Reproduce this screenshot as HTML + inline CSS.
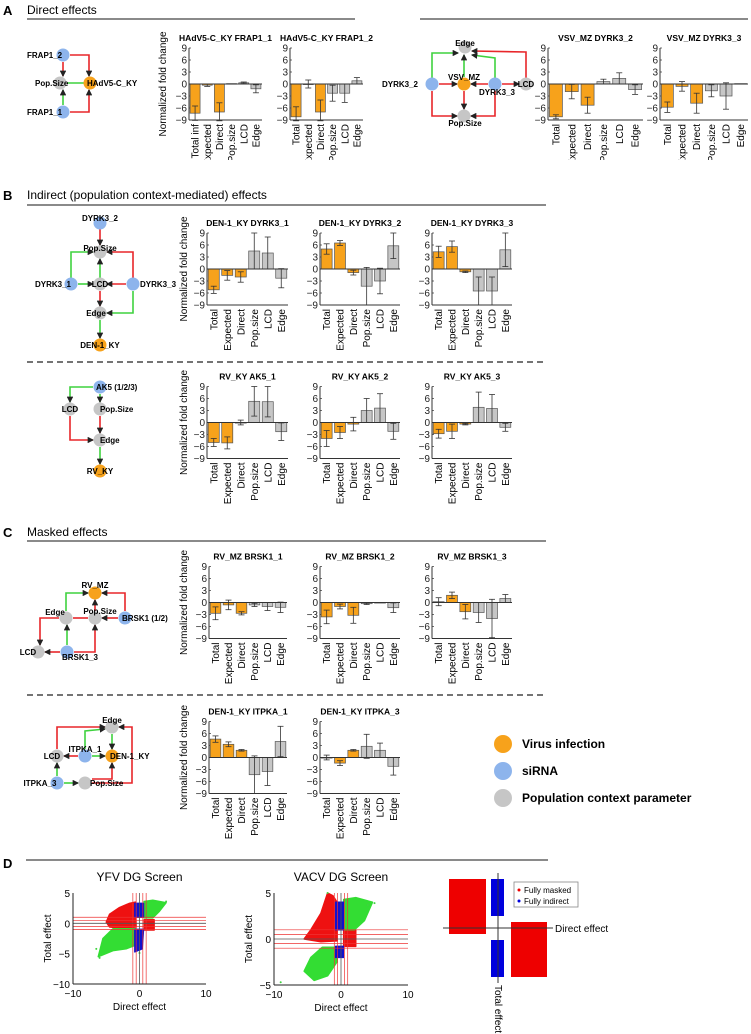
<!DOCTYPE html>
<html><head><meta charset="utf-8"><style>
html,body{margin:0;padding:0;background:#fff;}
svg{display:block;font-family:"Liberation Sans",Arial,sans-serif;}
</style></head><body>
<svg id="fig" width="751" height="1034" viewBox="0 0 751 1034" xmlns="http://www.w3.org/2000/svg">
<defs>
<clipPath id="clipA"><rect x="0" y="0" width="751" height="160"/></clipPath>
<marker id="ar" viewBox="0 0 6 6" refX="5" refY="3" markerWidth="4" markerHeight="4" orient="auto"><path d="M0,0L6,3L0,6z" fill="#222"/></marker>
</defs>
<!-- headers -->
<g font-size="12">
<text x="3" y="15" font-weight="bold" font-size="13">A</text><text x="27" y="14">Direct effects</text>
<line x1="27" y1="19" x2="355" y2="19" stroke="#444" stroke-width="1.3"/><line x1="420" y1="19" x2="748" y2="19" stroke="#444" stroke-width="1.3"/></g>
<g font-size="12">
<text x="3" y="200" font-weight="bold" font-size="13">B</text><text x="27" y="199">Indirect (population context-mediated) effects</text>
<line x1="27" y1="205" x2="546" y2="205" stroke="#444" stroke-width="1.3"/></g>
<line x1="27" y1="362" x2="546" y2="362" stroke="#222" stroke-width="1.3" stroke-dasharray="6,4"/>
<g font-size="12">
<text x="3" y="537" font-weight="bold" font-size="13">C</text><text x="27" y="536">Masked effects</text>
<line x1="27" y1="541" x2="546" y2="541" stroke="#444" stroke-width="1.3"/></g>
<line x1="27" y1="695" x2="546" y2="695" stroke="#222" stroke-width="1.3" stroke-dasharray="6,4"/>
<g>
<text x="3" y="868" font-weight="bold" font-size="13">D</text>
<line x1="26" y1="860" x2="548" y2="860" stroke="#444" stroke-width="1.3"/></g>
<g id="charts"></g>
<g id="nets"></g>
<g id="legend" font-weight="bold" font-size="12">
<circle cx="503" cy="744" r="9" fill="#F7A21B"/><text x="522" y="748">Virus infection</text>
<circle cx="503" cy="771" r="9" fill="#8DB4EC"/><text x="522" y="775">siRNA</text>
<circle cx="503" cy="798" r="9" fill="#C6C6C6"/><text x="522" y="802">Population context parameter</text>
</g>
<g id="scatter"></g>
<g id="schema">
<rect x="449" y="879" width="37" height="55" fill="#EE0000"/>
<rect x="511" y="922" width="36" height="55" fill="#EE0000"/>
<rect x="491" y="879" width="13" height="37" fill="#0000DD"/>
<rect x="491" y="940" width="13" height="37" fill="#0000DD"/>
<line x1="498" y1="873" x2="498" y2="983" stroke="#333"/>
<line x1="443" y1="928" x2="553" y2="928" stroke="#333"/>
<text x="555" y="932" font-size="10">Direct effect</text>
<text transform="translate(495,985) rotate(90)" font-size="10">Total effect</text>
<rect x="514" y="882" width="64" height="25" fill="#fff" stroke="#888" stroke-width="0.8"/>
<circle cx="519" cy="890" r="1.5" fill="#EE0000"/><text x="524" y="893" font-size="8">Fully masked</text>
<circle cx="519" cy="901" r="1.5" fill="#0000DD"/><text x="524" y="904" font-size="8">Fully indirect</text>
</g>
</svg>
<script>
const NS="http://www.w3.org/2000/svg";
function mk(tag,attrs,parent,txt){const e=document.createElementNS(NS,tag);for(const k in attrs)e.setAttribute(k,attrs[k]);if(txt!==undefined)e.textContent=txt;parent.appendChild(e);return e;}
// ---------- bar chart data ----------
const categories=["Total","Expected","Direct","Pop.size","LCD","Edge"];
const catsA1=["Total inf","Expected","Direct","Pop.size","LCD","Edge"];
const yTicks=[9,6,3,0,-3,-6,-9];
const titles=["HAdV5-C_KY FRAP1_1","HAdV5-C_KY FRAP1_2","VSV_MZ DYRK3_2","VSV_MZ DYRK3_3",
"DEN-1_KY DYRK3_1","DEN-1_KY DYRK3_2","DEN-1_KY DYRK3_3","RV_KY AK5_1","RV_KY AK5_2","RV_KY AK5_3",
"RV_MZ BRSK1_1","RV_MZ BRSK1_2","RV_MZ BRSK1_3","DEN-1_KY ITPKA_1","DEN-1_KY ITPKA_3"];
const values=[
[-7.3,-0.3,-7,0.1,0.3,-1.2],[-8.2,0,-7,-2.3,-2.3,0.8],[-8.2,-1.9,-5.3,0.6,1.4,-1.4],[-5.8,-0.6,-4.8,-1.7,-3,0.1],
[-5.2,-1.6,-2,4.5,4,-2.3],[5,6.5,-0.9,-4.3,-3,5.8],[4.3,5.6,-0.7,-5.5,-5.5,4.8],
[-5,-5.1,0,5.3,5.2,-2.3],[-4,-2.5,-0.4,3,3.6,-2.2],[-2.8,-2.2,-0.4,3.8,3.5,-1.2],
[-2.7,-0.6,-2.7,-0.6,-1,-1.2],[-3.6,-1,-3.2,-0.3,0,-1.3],[0.2,1.8,-2.3,-2.5,-4,1],
[4.6,3.3,1.8,-4.3,-3.5,4],[0,-1.4,1.8,2.8,1.8,-2.2]];
const errors=[
[1.8,0.3,2.3,0,0.2,1],[2.5,1,3,2,2.3,0.8],[0.5,1.8,2,0.6,1.4,1.2],[1.3,1.2,2.5,1.5,3.3,0],
[0.9,1.2,1.3,4.5,4,2.4],[1.3,0.6,0.6,4.7,3.2,3.2],[1.4,1.4,0.2,3.5,3.5,4.2],
[1,1.5,0.6,3.7,3.8,2.2],[2,1.5,1.7,3,3.6,2],[1.1,1.8,0.2,3.8,3.5,1],
[1.6,1.2,0.4,0.4,1,1.3],[1.7,0.6,2,0.2,0,1.2],[1,0.8,1.8,2.5,4.8,1],
[0.8,0.6,0.2,4.7,3.5,3.8],[0.6,0.6,0.2,3,1.8,2.2]];
// layout (positions, not data)
const layout=[
[189,84,73,1],[290,84,73,1],[548,84,95,1],[660,84,88,1],
[207,269,81,0],[320,269,80,0],[432,269,80,0],
[207,422.5,81,0],[320,422.5,80,0],[432,422.5,80,0],
[209,602.5,78,0],[320,602.5,80,0],[432,602.5,80,0],
[209,757.5,78,0],[320,757.5,80,0]];
const ylabX={84:162,269:183,422.5:183,602.5:183,757.5:183};
const charts=document.getElementById('charts');
layout.forEach((L,ci)=>{
 const [x0,zy,W,clipA]=L; const k=4;
 const yS=v=>zy-v*k;
 const g=mk('g',{},charts);
 
 
 const t=mk('text',{x:x0+W/2,y:yS(9)-7,'text-anchor':'middle','font-size':8.5,'font-weight':'bold'},g,titles[ci]);
 
 
 if(ci===0||ci===4||ci===7||ci===10||ci===13||ci===2&&false){
  const yl=mk('text',{transform:`translate(${ylabX[zy]+4},${zy}) rotate(-90)`,'text-anchor':'middle','font-size':10},g,'Normalized fold change');
  
  
 }
 yTicks.forEach(tv=>{
  const tl=mk('text',{x:x0-2,y:yS(tv)+3.5,'text-anchor':'end','font-size':10,fill:'#222'},g,tv<0?'\u2212'+(-tv):String(tv));
  
  
  mk('line',{x1:x0,x2:x0+2,y1:yS(tv),y2:yS(tv),stroke:'#333','stroke-width':0.7},g);
 });
 mk('line',{x1:x0,x2:x0,y1:yS(9),y2:yS(-9),stroke:'#333','stroke-width':1},g);
 mk('line',{x1:x0,x2:x0+W,y1:yS(-9),y2:yS(-9),stroke:'#333','stroke-width':1},g);
 const slot=W/6, bw=slot*0.82;
 const labG=mk('g',clipA?{'clip-path':'url(#clipA)'}:{},g);
 values[ci].forEach((v,i)=>{
  const cx=x0+slot*(i+0.5);
  const top=Math.min(yS(v),zy), h=Math.abs(yS(v)-zy);
  const b=mk('rect',{x:cx-bw/2,y:top,width:bw,height:Math.max(h,0.6),fill:i<3?'#F7A21B':'#C6C6C6',stroke:'#555','stroke-width':0.7},g);
  
  
  const e=errors[ci][i];
  if(e>0){
   const y1=yS(v+e),y2=yS(Math.max(v-e,-9.2));
   mk('line',{x1:cx,x2:cx,y1:y1,y2:y2,stroke:'#333','stroke-width':0.8},g);
   mk('line',{x1:cx-3,x2:cx+3,y1:y1,y2:y1,stroke:'#333','stroke-width':0.8},g);
   mk('line',{x1:cx-3,x2:cx+3,y1:y2,y2:y2,stroke:'#333','stroke-width':0.8},g);
  }
  const lab=(ci===0?catsA1:categories)[i];
  const tl=mk('text',{transform:`translate(${cx+3.5},${yS(-9)+4}) rotate(-90)`,'text-anchor':'end','font-size':10},labG,lab);
  
  
 });
 mk('line',{x1:x0,x2:x0+W,y1:zy,y2:zy,stroke:'#333','stroke-width':1},g);
});
// ---------- networks ----------
const nets=document.getElementById('nets');
const COL={o:'#F7A21B',b:'#8DB4EC',g:'#C6C6C6'};
const R='#E8262A',G='#3FD23F';
function edge(pts,c){const d='M'+pts.map(p=>p.join(',')).join('L');const p=mk('path',{d:d,fill:'none',stroke:c,'stroke-width':1.6,'marker-end':'url(#ar)'},nets);}
function node(x,y,c,label,lx,ly,anchor){const n=mk('circle',{cx:x,cy:y,r:6.5,fill:COL[c]},nets);
 const t=mk('text',{x:lx,y:ly,'font-size':8,'font-weight':'bold','text-anchor':anchor||'middle'},nets,label);}
// A left
edge([[70,55],[89,55],[89,76]],R);edge([[63,62],[63,76]],R);edge([[70,112],[89,112],[89,90]],R);edge([[63,105],[63,90]],G);
mk('line',{x1:67,y1:83,x2:84,y2:83,stroke:G,'stroke-width':1.6},nets);
node(63,55,'b','FRAP1_2',27,58,'start');node(60,83,'g','Pop.Size',35,86,'start');node(90,83,'o','HAdV5-C_KY',87,86,'start');node(63,112,'b','FRAP1_1',27,115,'start');
// A right
edge([[432,78],[432,53],[458,53]],G);edge([[464,77],[464,55]],G);edge([[495,78],[495,58],[472,55]],G);edge([[526,78],[526,52],[472,51]],R);
edge([[439,84],[457,84]],R);edge([[488,84],[471,84]],R);edge([[502,84],[519,84]],R);edge([[464,91],[464,109]],R);
edge([[432,91],[432,116],[457,116]],R);edge([[495,91],[495,116],[471,116]],R);
node(465,47,'g','Edge',465,46);node(432,84,'b','DYRK3_2',400,87,'middle');node(464,84,'o','VSV_MZ',464,80);node(495,84,'b','DYRK3_3',497,95);node(526,84,'g','LCD',526,87);node(464,116,'g','Pop.Size',465,126);
// B top
edge([[100,229],[100,245]],R);edge([[71,278],[71,252],[93,252]],G);edge([[100,278],[100,259]],G);edge([[133,278],[133,252],[107,252]],R);
edge([[78,284],[93,284]],G);edge([[126,284],[107,284]],R);edge([[100,291],[100,306]],R);edge([[133,291],[133,313],[107,313]],G);edge([[100,320],[100,338]],G);
node(100,223,'b','DYRK3_2',100,221);node(100,252,'g','Pop.Size',100,251);node(71,284,'b','DYRK3_1',53,287);node(100,284,'g','LCD',100,287);node(133,284,'b','DYRK3_3',140,287,'start');node(100,313,'g','Edge',96,316);node(100,345,'o','DEN-1_KY',100,348);
// B bottom
edge([[93,387],[70,387],[70,402]],G);edge([[100,394],[100,402]],G);edge([[100,416],[100,433]],R);edge([[70,416],[70,440],[93,440]],R);edge([[100,447],[100,464]],G);
node(100,387,'b','AK5 (1/2/3)',96,390,'start');node(70,409,'g','LCD',70,412);node(100,409,'g','Pop.Size',100,412,'start');node(100,440,'g','Edge',100,443,'start');node(100,471,'o','RV_KY',100,474);
// C top
edge([[66,611],[66,593],[88,593]],G);edge([[95,611],[95,600]],R);edge([[125,611],[125,593],[102,593]],R);edge([[118,618],[102,618]],R);
mk('line',{x1:73,y1:618,x2:88,y2:618,stroke:R,'stroke-width':1.6},nets);
edge([[59,618],[40,618],[40,645]],R);edge([[67,645],[67,625]],G);edge([[60,652],[45,652]],R);edge([[74,652],[95,652],[95,625]],R);
node(95,593,'o','RV_MZ',95,588);node(66,618,'g','Edge',55,615);node(95,618,'g','Pop.Size',100,614);node(125,618,'b','BRSK1 (1/2)',122,621,'start');node(38,652,'g','LCD',28,655);node(67,652,'b','BRSK1_3',80,660);
// C bottom
edge([[57,749],[57,727],[105,727]],R);edge([[85,749],[85,731],[105,729]],G);edge([[112,734],[112,749]],G);edge([[78,756],[64,756]],R);edge([[92,756],[105,756]],G);
edge([[57,776],[57,763]],G);edge([[64,783],[78,783]],G);edge([[92,783],[132,783],[132,727],[119,727]],R);edge([[92,779],[112,779],[112,763]],R);
node(112,727,'g','Edge',112,723);node(57,756,'g','LCD',52,759);node(85,756,'b','ITPKA_1',85,752);node(112,756,'o','DEN-1_KY',110,759,'start');node(57,783,'b','ITPKA_3',40,786);node(85,783,'g','Pop.Size',90,786,'start');
// ---------- scatter ----------
const scatterTitles=["YFV DG Screen","VACV DG Screen"];
const xTicksS=[-10,0,10];
const yTicksYFV=[5,0,-5,-10];
const yTicksVACV=[5,0,-5];
const thresholds=[-1,-0.5,0.5,1];
// cloud outlines in data coords [direct, total]
const yfvRed=[[-5,0.2],[-4.5,1.5],[-3,2.6],[-1.5,3.3],[-0.6,3.5],[-0.5,-0.6],[-2.5,-0.8],[-4.5,-0.6]];
const yfvRed2=[[0.7,0.6],[2.2,0.6],[2.2,-1.1],[0.7,-1.1]];
const yfvGreenTR=[[0.7,0.9],[0.7,3.6],[2,3.8],[4,3.4],[3,2],[2,0.9]];
const yfvGreenBL=[[-0.5,-0.9],[-4,-0.9],[-5.5,-2.5],[-6.2,-5.5],[-4,-4.5],[-2,-4.2],[-0.6,-3.6]];
const yfvBlue1=[[-0.7,1],[-0.7,3.3],[0.6,3.3],[0.6,1]];
const yfvBlue2=[[-0.7,-1],[-0.7,-4.7],[0.4,-4.2],[0.6,-1]];
const vacvRed=[[-5.5,0],[-4.5,1],[-3,2.8],[-2,5],[-1.2,4.7],[-0.6,4],[-0.6,-0.2],[-3,-0.3]];
const vacvRed2=[[0.4,1],[2.2,1],[2.2,-0.8],[0.4,-0.8]];
const vacvGreenTR=[[0.4,1],[0.4,4.3],[2.2,4.5],[4.7,4],[3.5,2],[2,1]];
const vacvGreenBL=[[-0.6,-0.9],[-2.8,-0.9],[-4.5,-2],[-5.5,-3.5],[-4,-4.5],[-2,-4],[-0.6,-2.5]];
const vacvBlue1=[[-0.8,1],[-0.8,4],[0.4,4],[0.4,1]];
const vacvBlue2=[[-0.8,-0.8],[-0.8,-2],[0.4,-2],[0.4,-0.8]];
const vacvOutliers=[[-9,-4.7],[-2,5],[5,3.9],[4,3.7]];
const yfvOutliers=[[-6,-5.7],[-6.5,-4.2],[4,3.6],[0,-4.9]];
const sc=document.getElementById('scatter');
function scat(px0,px1,py0,py1,ymax,ymin,yt,title,clouds,outs,nm){
 const g=mk('g',{},sc);
 
 
 const X=v=>px0+(v+10)/20*(px1-px0), Y=v=>py0+(ymax-v)/(ymax-ymin)*(py1-py0);
 clouds.forEach(([pts,c])=>{const p=mk('polygon',{points:pts.map(q=>X(q[0])+','+Y(q[1])).join(' '),fill:c,stroke:c,'stroke-width':1.5,'stroke-linejoin':'round'},g);});
 outs.forEach(q=>{const c=mk('circle',{cx:X(q[0]),cy:Y(q[1]),r:1,fill:'#3FD23F'},g);});
 thresholds.forEach(t=>{mk('line',{x1:px0,x2:px1,y1:Y(t),y2:Y(t),stroke:'#E33','stroke-width':0.7},g);mk('line',{x1:X(t),x2:X(t),y1:py0,y2:py1,stroke:'#E33','stroke-width':0.7},g);});
 mk('line',{x1:px0,x2:px1,y1:Y(0),y2:Y(0),stroke:'#555','stroke-width':0.8},g);
 mk('line',{x1:X(0),x2:X(0),y1:py0,y2:py1,stroke:'#555','stroke-width':0.8},g);
 mk('line',{x1:px0,x2:px0,y1:py0,y2:py1,stroke:'#222'},g);mk('line',{x1:px0,x2:px1,y1:py1,y2:py1,stroke:'#222'},g);
 yt.forEach(v=>{const t=mk('text',{x:px0-3,y:Y(v)+4,'text-anchor':'end','font-size':10},g,v<0?'\u2212'+(-v):String(v));});
 xTicksS.forEach(v=>{const t=mk('text',{x:X(v),y:py1+13,'text-anchor':'middle','font-size':10},g,v<0?'\u2212'+(-v):String(v));});
 const tt=mk('text',{x:(px0+px1)/2,y:py0-12,'text-anchor':'middle','font-size':12},g,title);
 const xl=mk('text',{x:(px0+px1)/2,y:py1+26,'text-anchor':'middle','font-size':10},g,'Direct effect');
 const yl=mk('text',{transform:`translate(${px0-22},${(py0+py1)/2}) rotate(-90)`,'text-anchor':'middle','font-size':10},g,'Total effect');
}
const RED='#EE1111',GRN='#33DD33',BLU='#1111CC';
scat(73,206,893,984,5,-10,yTicksYFV,scatterTitles[0],[[yfvRed,RED],[yfvRed2,RED],[yfvGreenTR,GRN],[yfvGreenBL,GRN],[yfvBlue1,BLU],[yfvBlue2,BLU]],yfvOutliers,'yfv-scatter');
scat(274,408,893,985,5,-5,yTicksVACV,scatterTitles[1],[[vacvRed,RED],[vacvRed2,RED],[vacvGreenTR,GRN],[vacvGreenBL,GRN],[vacvBlue1,BLU],[vacvBlue2,BLU]],vacvOutliers,'vacv-scatter');
</script>
</body></html>
